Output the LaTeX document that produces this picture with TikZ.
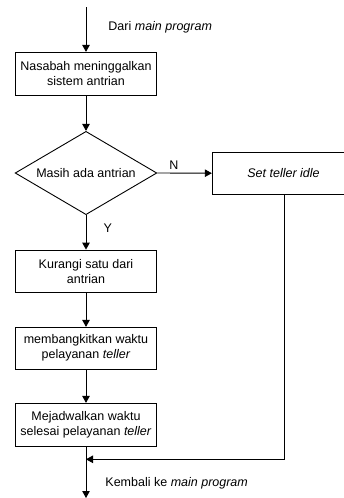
\documentclass[tikz,border=0pt]{standalone}
\usepackage{fontspec}
\setmainfont{Liberation Sans}
\usetikzlibrary{shapes.geometric,arrows.meta}
\begin{document}
\begin{tikzpicture}[x=1pt,y=-1pt,
  font=\fontsize{12.5pt}{15pt}\selectfont,
  line width=0.9pt,
  arr/.style={-{Triangle[length=7pt,width=7.5pt]}},
  procbox/.style={draw,rectangle,minimum width=141.5pt,inner sep=0pt,align=center},
  decbox/.style={draw,diamond,minimum width=141.7pt,minimum height=83.3pt,aspect=1.7,inner sep=0pt},
  lbl/.style={inner sep=0pt}
]
\useasboundingbox (0,0) rectangle (344,498);
\coordinate (start) at (86,7);
\node[procbox,minimum height=42.7pt] (b1) at (86,73.7) {Nasabah meninggalkan\\sistem antrian};
\node[decbox] (d) at (86,173) {Masih ada antrian};
\node[procbox,minimum height=41.7pt,minimum width=142.4pt] (idle) at (283.5,173.2) {\itshape Set teller idle};
\node[procbox,minimum height=42.3pt] (b2) at (86,271.2) {Kurangi satu dari\\antrian};
\node[procbox,minimum height=41.7pt] (b3) at (86,348.2) {membangkitkan waktu\\pelayanan \textit{teller}};
\node[procbox,minimum height=42.7pt] (b4) at (86,424.7) {Mejadwalkan waktu\\selesai pelayanan \textit{teller}};
\coordinate (join) at (86,459.3);
\coordinate (corner) at (284,459.3);
\coordinate (end) at (86,498);

\draw[arr] (start) -- (b1.north);
\draw[arr] (b1.south) -- (d.north);
\draw[arr] (d.east) -- (idle.west);
\draw[arr] (d.south) -- (b2.north);
\draw[arr] (b2.south) -- (b3.north);
\draw[arr] (b3.south) -- (b4.north);
\draw (b4.south) -- (join);
\draw[arr] (join) -- (end);
\draw[arr] (idle.south -| corner) -- (corner) -- (join);

\node[lbl,anchor=west] (l1) at (108,27) {Dari \textit{main program}};
\node[lbl] (ln) at (174,165) {N};
\node[lbl] (ly) at (107.7,228.3) {Y};
\node[lbl,anchor=west] (l2) at (105,483) {Kembali ke \textit{main program}};
\end{tikzpicture}
\end{document}
